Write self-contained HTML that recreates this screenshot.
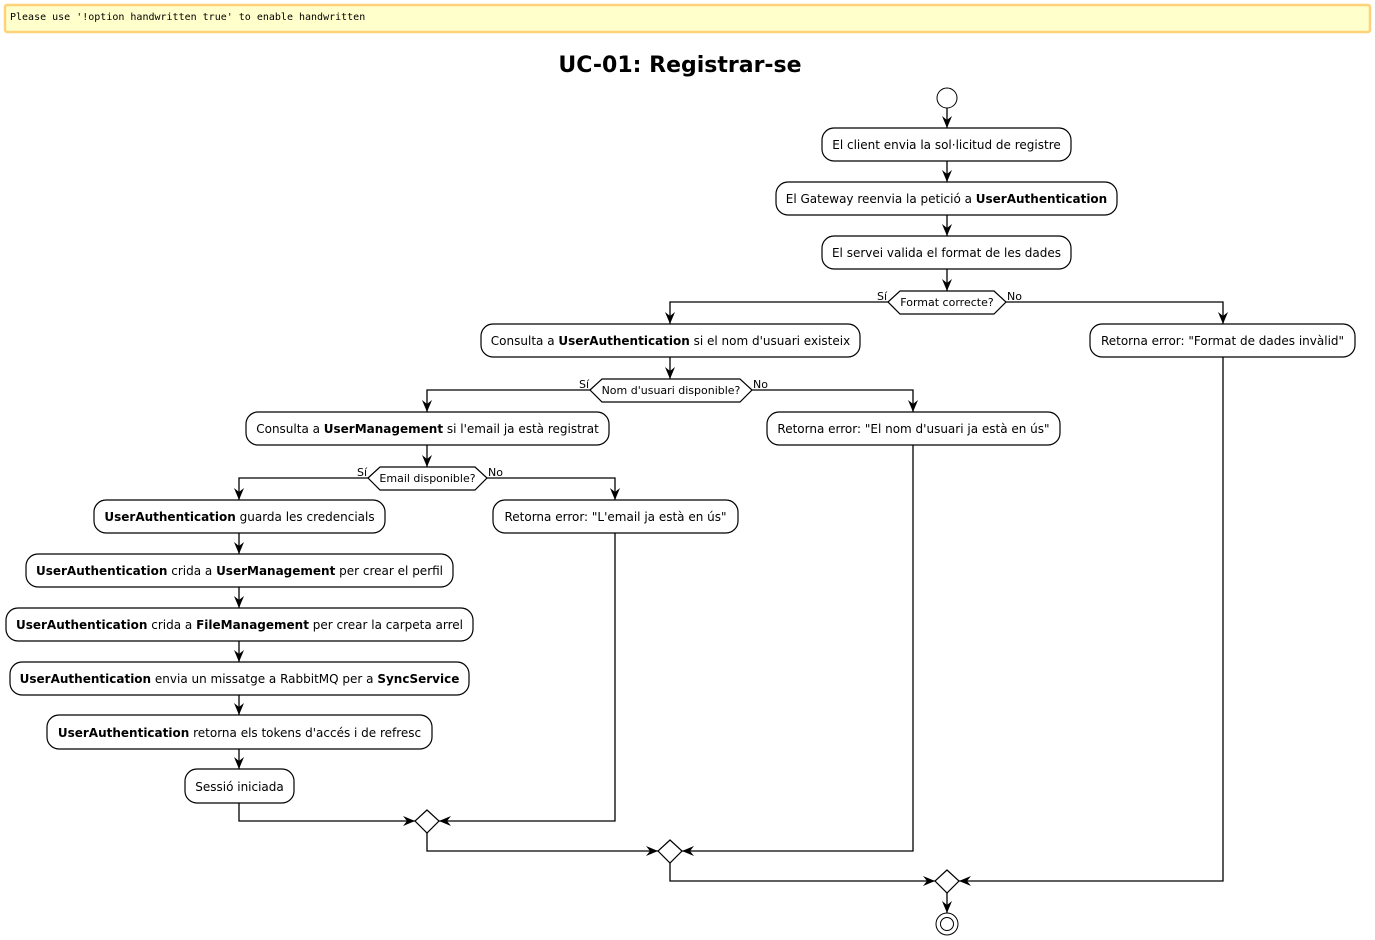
<!DOCTYPE html>
<html><head><meta charset="utf-8"><style>
body{margin:0;background:#fff}
svg{display:block}
text{font-family:"DejaVu Sans","Liberation Sans",sans-serif;font-size:12px;fill:#000}
.b{font-weight:bold}
.box{fill:#fff;stroke:#000;stroke-width:1.2}
.ln{fill:none;stroke:#000;stroke-width:1.3}
.sm{font-size:11px}
</style></head><body>
<svg width="1375" height="940" viewBox="0 0 1375 940" xmlns="http://www.w3.org/2000/svg">
<defs>
<marker id="a" markerUnits="userSpaceOnUse" markerWidth="14" markerHeight="12" refX="12" refY="5" orient="auto">
<path d="M0,0 L12,5 L0,10 L4,5 Z" fill="#000"/>
</marker>
</defs>
<rect x="5" y="5" width="1365" height="27" rx="2" fill="#ffffcc" stroke="#ffd27a" stroke-width="2.5"/>
<text x="10" y="20" style="font-family:'DejaVu Sans Mono','Liberation Mono',monospace;font-size:10px">Please use '!option handwritten true' to enable handwritten</text>
<text x="680" y="72" text-anchor="middle" style="font-size:22px;font-weight:bold">UC-01: Registrar-se</text>

<circle cx="947" cy="98" r="10" fill="#fff" stroke="#000"/>
<line class="ln" x1="947" y1="108" x2="947" y2="128" marker-end="url(#a)"/>

<rect class="box" x="822" y="128" width="249" height="33" rx="12"/>
<text x="946.5" y="149" text-anchor="middle">El client envia la sol·licitud de registre</text>
<line class="ln" x1="947" y1="161" x2="947" y2="182" marker-end="url(#a)"/>
<rect class="box" x="776" y="182" width="341" height="33" rx="12"/>
<text x="946.5" y="203" text-anchor="middle">El Gateway reenvia la petició a <tspan class="b">UserAuthentication</tspan></text>
<line class="ln" x1="947" y1="215" x2="947" y2="236" marker-end="url(#a)"/>
<rect class="box" x="822" y="236" width="249" height="33" rx="12"/>
<text x="946.5" y="257" text-anchor="middle">El servei valida el format de les dades</text>
<line class="ln" x1="947" y1="269" x2="947" y2="291" marker-end="url(#a)"/>

<polygon class="box" points="888,302 900,291 994,291 1006,302 994,314 900,314"/>
<text x="947" y="306" text-anchor="middle" class="sm">Format correcte?</text>
<text x="877" y="300" class="sm">Sí</text><text x="1007" y="300" class="sm">No</text>
<polyline class="ln" points="888,302 670,302 670,324" marker-end="url(#a)"/>
<polyline class="ln" points="1006,302 1223,302 1223,324" marker-end="url(#a)"/>

<rect class="box" x="481" y="324" width="379" height="33" rx="12"/>
<text x="670.5" y="345" text-anchor="middle">Consulta a <tspan class="b">UserAuthentication</tspan> si el nom d'usuari existeix</text>
<rect class="box" x="1090" y="324" width="265" height="33" rx="12"/>
<text x="1222.5" y="345" text-anchor="middle">Retorna error: "Format de dades invàlid"</text>
<line class="ln" x1="670" y1="357" x2="670" y2="379" marker-end="url(#a)"/>

<polygon class="box" points="590,390 602,379 740,379 752,390 740,402 602,402"/>
<text x="671" y="394" text-anchor="middle" class="sm">Nom d'usuari disponible?</text>
<text x="579" y="388" class="sm">Sí</text><text x="753" y="388" class="sm">No</text>
<polyline class="ln" points="590,390 427,390 427,412" marker-end="url(#a)"/>
<polyline class="ln" points="752,390 913,390 913,412" marker-end="url(#a)"/>

<rect class="box" x="246" y="412" width="363" height="33" rx="12"/>
<text x="427.5" y="433" text-anchor="middle">Consulta a <tspan class="b">UserManagement</tspan> si l'email ja està registrat</text>
<rect class="box" x="767" y="412" width="293" height="33" rx="12"/>
<text x="913.5" y="433" text-anchor="middle">Retorna error: "El nom d'usuari ja està en ús"</text>
<line class="ln" x1="427" y1="445" x2="427" y2="467" marker-end="url(#a)"/>

<polygon class="box" points="368,478 380,467 475,467 487,478 475,490 380,490"/>
<text x="427.5" y="482" text-anchor="middle" class="sm">Email disponible?</text>
<text x="357" y="476" class="sm">Sí</text><text x="488" y="476" class="sm">No</text>
<polyline class="ln" points="368,478 239,478 239,500" marker-end="url(#a)"/>
<polyline class="ln" points="487,478 615,478 615,500" marker-end="url(#a)"/>

<rect class="box" x="94" y="500" width="291" height="33" rx="12"/>
<text x="239.5" y="521" text-anchor="middle"><tspan class="b">UserAuthentication</tspan> guarda les credencials</text>
<rect class="box" x="493" y="500" width="245" height="33" rx="12"/>
<text x="615.5" y="521" text-anchor="middle">Retorna error: "L'email ja està en ús"</text>
<line class="ln" x1="239" y1="533" x2="239" y2="554" marker-end="url(#a)"/>
<rect class="box" x="26" y="554" width="427" height="33" rx="12"/>
<text x="239.5" y="575" text-anchor="middle"><tspan class="b">UserAuthentication</tspan> crida a <tspan class="b">UserManagement</tspan> per crear el perfil</text>
<line class="ln" x1="239" y1="587" x2="239" y2="608" marker-end="url(#a)"/>
<rect class="box" x="6" y="608" width="467" height="33" rx="12"/>
<text x="239.5" y="629" text-anchor="middle"><tspan class="b">UserAuthentication</tspan> crida a <tspan class="b">FileManagement</tspan> per crear la carpeta arrel</text>
<line class="ln" x1="239" y1="641" x2="239" y2="662" marker-end="url(#a)"/>
<rect class="box" x="10" y="662" width="459" height="33" rx="12"/>
<text x="239.5" y="683" text-anchor="middle"><tspan class="b">UserAuthentication</tspan> envia un missatge a RabbitMQ per a <tspan class="b">SyncService</tspan></text>
<line class="ln" x1="239" y1="695" x2="239" y2="715" marker-end="url(#a)"/>
<rect class="box" x="47" y="715" width="385" height="34" rx="12"/>
<text x="239.5" y="737" text-anchor="middle"><tspan class="b">UserAuthentication</tspan> retorna els tokens d'accés i de refresc</text>
<line class="ln" x1="239" y1="749" x2="239" y2="769" marker-end="url(#a)"/>
<rect class="box" x="185" y="769" width="109" height="34" rx="12"/>
<text x="239.5" y="791" text-anchor="middle">Sessió iniciada</text>

<polygon class="box" points="427,810 439,821 427,833 415,821"/>
<polyline class="ln" points="239,803 239,821 415,821" marker-end="url(#a)"/>
<polyline class="ln" points="615,533 615,821 439,821" marker-end="url(#a)"/>

<polygon class="box" points="670,840 682,851 670,863 658,851"/>
<polyline class="ln" points="427,833 427,851 658,851" marker-end="url(#a)"/>
<polyline class="ln" points="913,445 913,851 682,851" marker-end="url(#a)"/>

<polygon class="box" points="947,870 959,881 947,893 935,881"/>
<polyline class="ln" points="670,863 670,881 935,881" marker-end="url(#a)"/>
<polyline class="ln" points="1223,357 1223,881 959,881" marker-end="url(#a)"/>

<line class="ln" x1="947" y1="893" x2="947" y2="913" marker-end="url(#a)"/>
<circle cx="947" cy="924" r="11" fill="#fff" stroke="#000"/>
<circle cx="947" cy="924" r="6.5" fill="#fff" stroke="#000"/>
</svg>
</body></html>
